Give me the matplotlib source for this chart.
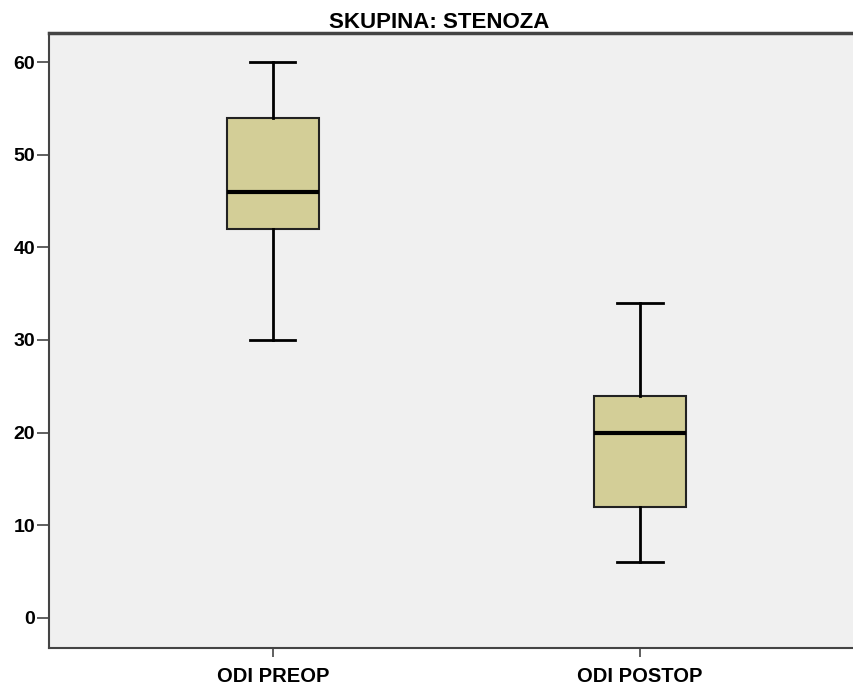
import matplotlib
matplotlib.use("Agg")
import matplotlib.pyplot as plt

categories = ["ODI PREOP", "ODI POSTOP"]
whislo = [30, 6]
q1 = [42, 12]
med = [46, 20]
q3 = [54, 24]
whishi = [60, 34]
yticks = [0, 10, 20, 30, 40, 50, 60]
title = "SKUPINA: STENOZA"

plt.rcParams['font.family'] = ['Liberation Sans', 'DejaVu Sans']

fig = plt.figure(figsize=(8.54, 6.88), dpi=100)
ax = fig.add_axes([49/854, 1-648/688, 1-49/854, (648-33)/688])
ax.set_facecolor("#F0F0F0")

stats = []
for i, c in enumerate(categories):
    stats.append(dict(label=c, whislo=whislo[i], q1=q1[i], med=med[i],
                      q3=q3[i], whishi=whishi[i], fliers=[]))

ax.bxp(stats, positions=[0, 1], widths=0.25, patch_artist=True,
       showfliers=False, capwidths=0.123,
       boxprops=dict(facecolor="#D3CE97", edgecolor="#222222", linewidth=1.5),
       medianprops=dict(color="black", linewidth=3),
       whiskerprops=dict(color="black", linewidth=2),
       capprops=dict(color="black", linewidth=2))

ax.set_xlim(-0.610, 1.583)
ax.set_ylim(-3.24, 63.13)
ax.set_yticks(yticks)
ax.set_xticks([0, 1])
ax.set_xticklabels(categories)
for lab in ax.get_xticklabels():
    lab.set_fontweight("bold")
    lab.set_fontsize(14.5)
for lab in ax.get_yticklabels():
    lab.set_fontweight("bold")
    lab.set_fontsize(14)
ax.tick_params(axis='y', direction='out', length=9, width=1.2, color="#444444", pad=1)
ax.tick_params(axis='x', direction='out', length=6.5, width=1.2, color="#444444", pad=7)

for s in ["left", "bottom", "top"]:
    ax.spines[s].set_color("#444444")
    ax.spines[s].set_linewidth(1.5)
ax.spines["top"].set_linewidth(2.5)
ax.spines["right"].set_visible(False)

ax.set_title(title, fontsize=16, fontweight="bold", pad=3, x=0.4845)

fig.savefig("out.png", dpi=100)
